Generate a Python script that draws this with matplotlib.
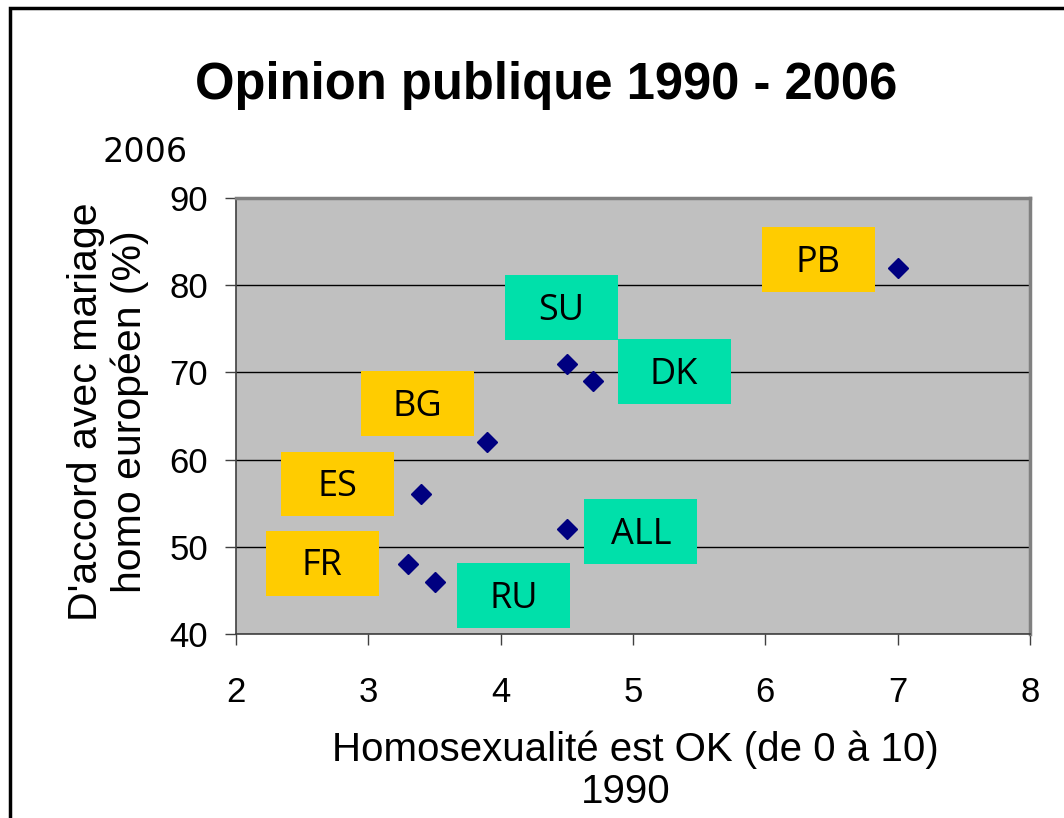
import matplotlib.pyplot as plt
from matplotlib.patches import Rectangle

# Data
countries = ['PB', 'SU', 'DK', 'BG', 'ES', 'ALL', 'FR', 'RU']
score_1990 = [7.0, 4.5, 4.7, 3.9, 3.4, 4.5, 3.3, 3.5]
accord_2006 = [82, 71, 69, 62, 56, 52, 48, 46]
groups = ['y', 'g', 'g', 'y', 'y', 'g', 'y', 'g']

# label box centres (layout)
label_x = [6.40, 4.46, 5.31, 3.37, 2.77, 5.06, 2.65, 4.10]
label_y = [82.9, 77.4, 70.1, 66.4, 57.2, 51.7, 48.1, 44.4]
box_colors = {'y': '#FFCC00', 'g': '#00E0AA'}

W, H = 1064, 818
fig = plt.figure(figsize=(W / 100, H / 100), dpi=100)
fig.patch.set_facecolor('white')

# outer frame
fig.add_artist(Rectangle((10 / W, -0.1), 1.2, 1 - 8 / H + 0.1, transform=fig.transFigure,
                         fill=False, edgecolor='black', linewidth=2.5))

ax = fig.add_axes([236 / W, 1 - 634 / H, (1030 - 236) / W, (634 - 198) / H])
ax.set_facecolor('#C0C0C0')
ax.set_xlim(2, 8)
ax.set_ylim(40, 90)
ax.set_xticks(range(2, 9))
ax.set_yticks(range(40, 91, 10))
ax.yaxis.grid(True, color='black', linewidth=1)
ax.set_axisbelow(True)
for s in ['top', 'right']:
    ax.spines[s].set_color('#808080')
    ax.spines[s].set_linewidth(2.5)
for s in ['left', 'bottom']:
    ax.spines[s].set_color('#404040')
    ax.spines[s].set_linewidth(1.2)
ax.tick_params(direction='out', length=8, width=1, color='#404040', labelsize=25)
ax.tick_params(axis='x', pad=22)
ax.tick_params(axis='y', pad=12)
for lab in ax.get_xticklabels() + ax.get_yticklabels():
    lab.set_fontfamily('Liberation Sans')

bw, bh = 0.854, 7.45
for name, lx, ly, g in zip(countries, label_x, label_y, groups):
    ax.add_patch(Rectangle((lx - bw / 2, ly - bh / 2), bw, bh,
                           facecolor=box_colors[g], edgecolor='none', zorder=3))
    ax.text(lx, ly - 0.35, name, ha='center', va='center', fontsize=26,
            family='Open Sans', zorder=4)

ax.plot(score_1990, accord_2006, linestyle='none', marker='D', markersize=10.5,
        color='#000080', zorder=5)

fig.text(546 / W, 1 - 85 / H, 'Opinion publique 1990 - 2006', ha='center', va='center',
         fontsize=36.5, fontweight='bold', family='Liberation Sans')
fig.text(145 / W, 1 - 153 / H, '2006', ha='center', va='center', fontsize=24,
         family='DejaVu Sans')
fig.text(108 / W, 1 - 412 / H, "D'accord avec mariage\nhomo européen (%)", rotation=90,
         ha='center', va='center', fontsize=29.5, family='Liberation Sans', linespacing=1.2)
fig.text(635 / W, 1 - 750 / H, 'Homosexualité est OK (de 0 à 10)', ha='center', va='center',
         fontsize=29, family='Liberation Sans')
fig.text(626 / W, 1 - 792 / H, '1990', ha='center', va='center', fontsize=29,
         family='Liberation Sans')

fig.savefig('out.png', dpi=100)
